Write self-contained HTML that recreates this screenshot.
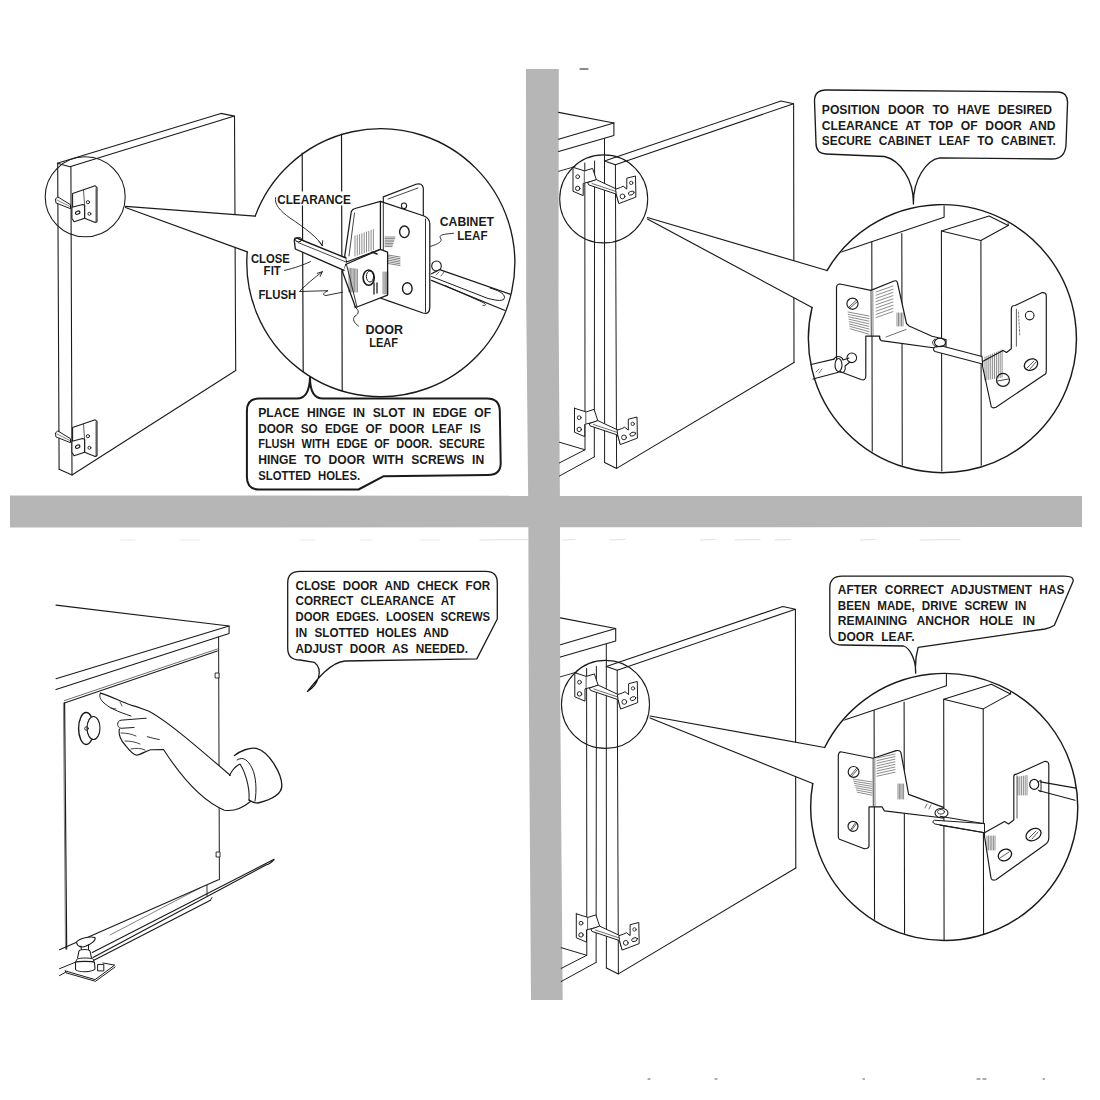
<!DOCTYPE html><html><head><meta charset="utf-8"><style>
html,body{margin:0;padding:0;background:#fff;width:1100px;height:1100px;overflow:hidden}
svg{display:block}
text{font-family:"Liberation Sans",sans-serif;font-weight:bold;fill:#1a1a1a}
</style></head><body>
<svg width="1100" height="1100" viewBox="0 0 1100 1100">
<defs>
<pattern id="ht" width="2" height="2" patternUnits="userSpaceOnUse">
<rect width="2" height="2" fill="#d8d8d8"/><rect x="0" y="0" width="1" height="1" fill="#828282"/><rect x="1" y="1" width="1" height="1" fill="#828282"/>
</pattern>
</defs>
<rect width="1100" height="1100" fill="#fff"/>

<polygon points="526,69 558.8,69 558.5,300 560,510 560.2,700 562.7,1000 531,1000 528.9,700 528.3,510 526.2,300" fill="#b6b6b6"/>
<polygon points="10,495.5 1082,495.8 1082,527 10,527.6" fill="#b6b6b6"/>
<g stroke="#1a1a1a" fill="none" stroke-linecap="round" stroke-linejoin="round">
<polyline points="57.3,163.2 220.9,113.4 234.5,116.1 69.8,166.8 57.3,163.2" stroke-width="1.08" fill="none"/>
<line x1="57.7" y1="163.2" x2="59.1" y2="469.3" stroke-width="1.08"/>
<line x1="70.9" y1="166.8" x2="72" y2="475" stroke-width="1.08"/>
<line x1="234.5" y1="116.1" x2="235.7" y2="370.5" stroke-width="1.08"/>
<polyline points="235.7,370.5 72,475 59.1,469.3" stroke-width="1.08" fill="none"/>
<polygon points="57.4,197.1 55.5,199 55.9,202.9 70.5,208.7 70.5,205.1" stroke-width="0.99" fill="#fff"/>
<line x1="57" y1="200" x2="70.5" y2="206.8" stroke-width="0.54"/>
<polygon points="72.6,193.5 83.5,189.8 95.2,185.8 97,187.3 97,221.8 95.2,222.5 84.6,218.2 84.6,205.5 72.6,208" stroke-width="1.08" fill="#fff"/>
<line x1="83.5" y1="190" x2="84.6" y2="205.5" stroke-width="0.72"/>
<line x1="96" y1="188" x2="96" y2="222" stroke-width="0.72"/>
<polygon points="71.9,207.3 82.8,204.4 84.6,205.5 84.6,218.2 74.1,221.8 71.9,218.2" stroke-width="1.08" fill="#fff"/>
<circle cx="87.9" cy="202.2" r="1.6" stroke-width="0.9" fill="#fff"/>
<circle cx="89.4" cy="213.8" r="1.5" stroke-width="0.9" fill="#fff"/>
<ellipse cx="77.7" cy="212.7" rx="2.3" ry="1.5" transform="rotate(-25 77.7 212.7)" stroke-width="1.1" fill="#fff"/>
<g transform="translate(0,234)">
<polygon points="57.4,197.1 55.5,199 55.9,202.9 70.5,208.7 70.5,205.1" stroke-width="0.99" fill="#fff"/>
<line x1="57" y1="200" x2="70.5" y2="206.8" stroke-width="0.54"/>
<polygon points="72.6,193.5 83.5,189.8 95.2,185.8 97,187.3 97,221.8 95.2,222.5 84.6,218.2 84.6,205.5 72.6,208" stroke-width="1.08" fill="#fff"/>
<line x1="83.5" y1="190" x2="84.6" y2="205.5" stroke-width="0.72"/>
<line x1="96" y1="188" x2="96" y2="222" stroke-width="0.72"/>
<polygon points="71.9,207.3 82.8,204.4 84.6,205.5 84.6,218.2 74.1,221.8 71.9,218.2" stroke-width="1.08" fill="#fff"/>
<circle cx="87.9" cy="202.2" r="1.6" stroke-width="0.9" fill="#fff"/>
<circle cx="89.4" cy="213.8" r="1.5" stroke-width="0.9" fill="#fff"/>
<ellipse cx="77.7" cy="212.7" rx="2.3" ry="1.5" transform="rotate(-25 77.7 212.7)" stroke-width="1.1" fill="#fff"/>
</g>
<circle cx="85.2" cy="196.8" r="40" stroke-width="1.08" fill="none"/>
<path d="M125.5,206.4 L255.16,216.11 A134,134 0 1 1 247.24,251.89 L125.5,207.5 Z" fill="#fff" stroke="none"/>
<line x1="125.5" y1="206.4" x2="255.16" y2="216.11" stroke-width="1.17"/>
<line x1="125.5" y1="207.5" x2="247.24" y2="251.89" stroke-width="1.17"/>
<path d="M255.16,216.11 A134,134 0 1 1 247.24,251.89" stroke-width="1.35" fill="none"/>
<line x1="302.2" y1="153" x2="303.2" y2="372" stroke-width="1.17"/>
<line x1="341.5" y1="134" x2="342.2" y2="391" stroke-width="1.17"/>
<path d="M310,377.5 C310,390 314,398.6 323,398.6 L487,398.6 Q499.5,398.6 499.8,411 L500.7,463 Q500.7,475 488,475 L383.3,476.3 L358.5,489.5 L259,489.5 Q246.9,489.5 246.9,477 L246.9,411 Q246.9,398.6 259,398.6 L297,398.6 C305,398.6 309.5,392 310,377.5 Z" stroke-width="2.0" fill="#fff"/>
<text transform="translate(258.2,416.8) scale(0.92,1)" font-size="13.2" word-spacing="4.60" stroke="none">PLACE HINGE IN SLOT IN EDGE OF</text>
<text transform="translate(258.2,432.5) scale(0.8908908908908909,1)" font-size="13.2" word-spacing="4.50" stroke="none">DOOR SO EDGE OF DOOR LEAF IS</text>
<text transform="translate(258.2,448.2) scale(0.8324420677361853,1)" font-size="13.2" word-spacing="4.50" stroke="none">FLUSH WITH EDGE OF DOOR.  SECURE</text>
<text transform="translate(258.2,464) scale(0.92,1)" font-size="13.2" word-spacing="4.63" stroke="none">HINGE TO DOOR WITH SCREWS IN</text>
<text transform="translate(258.2,479.8) scale(0.8577666710509007,1)" font-size="13.2" word-spacing="4.50" stroke="none">SLOTTED HOLES.</text>
<ellipse cx="436.5" cy="266" rx="4.8" ry="5" stroke-width="1.1" fill="#fff"/>
<path d="M431.5,273.7 L439.7,269.6 L510.1,294.2 L505,310.5 L431.5,280.3 Z" fill="#fff" stroke="none"/>
<path d="M431.5,273.7 L439.7,269.6 L510.1,294.2" stroke-width="1.26" fill="none"/>
<path d="M431.5,280.3 L505,310.5" stroke-width="1.26" fill="none"/>
<path d="M431.5,276.5 L488,298.5 C497,300.5 504,302 504.5,297.5 C504.5,293 497,290 490,288" stroke-width="0.99" fill="none"/>
<path d="M445,285.5 L482,302 C486,304 487,305.5 483,305.5" stroke-width="0.9" fill="none"/>
<path d="M436,275 l3,-3 M441,276 l3,-4" stroke-width="0.63" fill="none"/>
<path d="M383.3,196.9 L416,184.3 Q422,182.5 423.3,188 L423.3,216 L383.3,216 Z" stroke-width="1.17" fill="#fff"/>
<path d="M388,199 L418,188" stroke-width="0.81" fill="none"/>
<ellipse cx="404" cy="205.8" rx="2.6" ry="2.8" stroke-width="1.1" fill="#fff"/>
<path d="M380.4,201.3 L424,216 Q429.8,218.5 429.8,224 L429.8,307 Q429.8,315 423,313 L388.4,300.9 L380.4,298 Z" stroke-width="1.26" fill="#fff"/>
<line x1="425.5" y1="219" x2="425.5" y2="312" stroke-width="0.9"/>
<line x1="383.3" y1="201.8" x2="383.3" y2="296" stroke-width="0.9"/>
<ellipse cx="404.4" cy="231.8" rx="4.8" ry="5.8" stroke-width="1.4" fill="#fff"/>
<ellipse cx="407.3" cy="288.5" rx="4.8" ry="5.8" stroke-width="1.4" fill="#fff"/>
<line x1="385" y1="237.0" x2="395.0" y2="237.0" stroke-width="0.54"/>
<line x1="385" y1="238.6" x2="394.5" y2="238.6" stroke-width="0.54"/>
<line x1="385" y1="240.2" x2="394.0" y2="240.2" stroke-width="0.54"/>
<line x1="385" y1="241.8" x2="393.5" y2="241.8" stroke-width="0.54"/>
<line x1="385" y1="243.4" x2="393.0" y2="243.4" stroke-width="0.54"/>
<line x1="385" y1="245.0" x2="392.5" y2="245.0" stroke-width="0.54"/>
<line x1="385" y1="246.6" x2="392.0" y2="246.6" stroke-width="0.54"/>
<line x1="388" y1="255.0" x2="400" y2="257.0" stroke-width="0.54"/>
<line x1="388" y1="256.7" x2="400" y2="258.7" stroke-width="0.54"/>
<line x1="388" y1="258.4" x2="400" y2="260.4" stroke-width="0.54"/>
<line x1="388" y1="260.1" x2="400" y2="262.1" stroke-width="0.54"/>
<line x1="388" y1="261.8" x2="400" y2="263.8" stroke-width="0.54"/>
<line x1="388" y1="263.5" x2="400" y2="265.5" stroke-width="0.54"/>
<path d="M351.3,211.5 Q352.5,209 355,208.5 L380.4,201.3 L380.4,249.3 L346.5,262 L344.7,256 Z" stroke-width="1.26" fill="#fff"/>
<line x1="354.5" y1="213" x2="349" y2="256" stroke-width="0.81"/>
<line x1="355.0" y1="236.0" x2="355.0" y2="256.0" stroke-width="0.5"/>
<line x1="357.3" y1="235.2" x2="357.3" y2="255.2" stroke-width="0.5"/>
<line x1="359.6" y1="234.4" x2="359.6" y2="254.4" stroke-width="0.5"/>
<line x1="361.9" y1="233.6" x2="361.9" y2="253.6" stroke-width="0.5"/>
<line x1="364.2" y1="232.8" x2="364.2" y2="252.8" stroke-width="0.5"/>
<line x1="366.5" y1="232.0" x2="366.5" y2="252.0" stroke-width="0.5"/>
<line x1="368.8" y1="231.2" x2="368.8" y2="251.2" stroke-width="0.5"/>
<line x1="371.1" y1="230.4" x2="371.1" y2="250.4" stroke-width="0.5"/>
<line x1="373.4" y1="229.6" x2="373.4" y2="249.6" stroke-width="0.5"/>
<path d="M345.5,264.5 L380.4,249.3 L387.6,252.2 L387.6,295.1 L355.6,307.5 L342.5,271.8 Z" stroke-width="1.26" fill="#fff"/>
<line x1="346.5" y1="264.5" x2="357" y2="307" stroke-width="0.9"/>
<line x1="372" y1="252" x2="377" y2="254" stroke-width="1.44"/>
<ellipse cx="368.7" cy="277.6" rx="5.6" ry="7.6" stroke-width="1.6" fill="#fff"/>
<ellipse cx="370" cy="276.5" rx="3.6" ry="5.5" stroke-width="1.0" fill="none"/>
<path d="M374,283 L374,294 M377,283 L377,293" stroke-width="1.26" fill="none"/>
<line x1="349.0" y1="268.0" x2="349.0" y2="292" stroke-width="0.5"/>
<line x1="350.4" y1="268.2" x2="350.4" y2="292" stroke-width="0.5"/>
<line x1="351.8" y1="268.4" x2="351.8" y2="292" stroke-width="0.5"/>
<line x1="353.2" y1="268.6" x2="353.2" y2="292" stroke-width="0.5"/>
<line x1="354.6" y1="268.8" x2="354.6" y2="292" stroke-width="0.5"/>
<line x1="356.0" y1="269.0" x2="356.0" y2="292" stroke-width="0.5"/>
<line x1="357.4" y1="269.2" x2="357.4" y2="292" stroke-width="0.5"/>
<line x1="383.0" y1="272" x2="383.0" y2="294" stroke-width="0.45"/>
<line x1="384.2" y1="272" x2="384.2" y2="294" stroke-width="0.45"/>
<line x1="385.4" y1="272" x2="385.4" y2="294" stroke-width="0.45"/>
<line x1="386.6" y1="272" x2="386.6" y2="294" stroke-width="0.45"/>
<line x1="387.8" y1="272" x2="387.8" y2="294" stroke-width="0.45"/>
<path d="M346,258 L298,238.5 Q293.5,236.5 294.5,242 L295.3,249 L344,270.4" stroke-width="1.35" fill="#fff"/>
<path d="M298,242.5 L346,262" stroke-width="0.81" fill="none"/>
<ellipse cx="298.6" cy="239.6" rx="3.2" ry="2.2" stroke-width="1.0" fill="none"/>
<rect x="277" y="191.5" width="75" height="14" fill="#fff" stroke="none"/>
<path d="M275.6,197.5 C274,204 280,211 290,218 C305,228 318,238 322.2,245.6" stroke-width="0.9" fill="none"/>
<path d="M322.2,245.6 l-3,-4 M322.2,245.6 l0.5,-5" stroke-width="0.9" fill="none"/>
<path d="M284.4,270.4 C295,268 303,265 310.5,261.6" stroke-width="0.9" fill="none"/>
<path d="M299.8,291 C307,284 314,278 322.2,271.8 M322.2,271.8 l-5,1.5 M322.2,271.8 l-2,4.5" stroke-width="0.9" fill="none"/>
<path d="M299.8,291.5 L328,290.7 C323,293 322,295 326,295.5 L342.5,292.2" stroke-width="0.9" fill="none"/>
<path d="M354.2,306.7 C360,310 359,314 355,316 C352,319 354,323 358.5,326" stroke-width="0.9" fill="none"/>
<path d="M453.5,233.3 C446,234 438,234.5 440.5,238 C443,241.5 438,244 430.5,246.4" stroke-width="0.9" fill="none"/>
<text transform="translate(277.2,203.5) scale(0.864,1)" font-size="13.6" stroke="none">CLEARANCE</text>
<text transform="translate(439.79999999999995,225.8) scale(0.897,1)" font-size="13.6" stroke="none">CABINET</text>
<text transform="translate(457.2,240) scale(0.854,1)" font-size="13.6" stroke="none">LEAF</text>
<text transform="translate(250.9,262.5) scale(0.831,1)" font-size="13.6" stroke="none">CLOSE</text>
<text transform="translate(263.59999999999997,275.3) scale(0.848,1)" font-size="13.6" stroke="none">FIT</text>
<text transform="translate(258.4,299.3) scale(0.834,1)" font-size="13.6" stroke="none">FLUSH</text>
<text transform="translate(365.4,333.6) scale(0.924,1)" font-size="13.6" stroke="none">DOOR</text>
<text transform="translate(369.2,346.8) scale(0.811,1)" font-size="13.6" stroke="none">LEAF</text>
<g transform="translate(0,0)">
<polyline points="558.6,112.4 613.9,123 613.9,135.6 558.6,151.6" stroke-width="1.08" fill="none"/>
<line x1="558.6" y1="139.3" x2="613.9" y2="123" stroke-width="1.08"/>
<line x1="558.6" y1="171.3" x2="575" y2="166.6" stroke-width="0.9"/>
<line x1="584.8" y1="163" x2="585" y2="449.8" stroke-width="0.99"/>
<line x1="594.6" y1="161" x2="594.3" y2="456.9" stroke-width="0.99"/>
<line x1="604.5" y1="138.5" x2="604.6" y2="462.4" stroke-width="0.99"/>
<line x1="615.4" y1="164.7" x2="616.6" y2="468.4" stroke-width="0.99"/>
<polyline points="604.5,161.1 781,101 793.6,103.7 615.4,164.7 604.5,161.1" stroke-width="1.08" fill="none"/>
<line x1="793.6" y1="103.7" x2="794" y2="362.5" stroke-width="1.08"/>
<polyline points="604.6,462.4 616.6,468.4 794,362.5" stroke-width="1.08" fill="none"/>
<polyline points="559.4,442.2 585,449.8 559.4,462.9" stroke-width="0.99" fill="none"/>
<line x1="594.3" y1="456.9" x2="559.4" y2="476" stroke-width="0.99"/>
<polygon points="573,167.3 584.6,170.9 592.6,168.4 596.3,179.6 592.6,181.1 583.2,183.3 583.2,195.6 573,191.3 573,167.3" stroke-width="0.99" fill="#fff"/>
<line x1="584.3" y1="171.5" x2="584.3" y2="182" stroke-width="0.72"/>
<polygon points="588,182.5 596.3,179.6 617.4,189.5 618.8,202.9 616,194 589,185" stroke-width="0.99" fill="#fff"/>
<line x1="592" y1="183.5" x2="616" y2="191.5" stroke-width="0.63"/>
<polygon points="615.9,189.1 620.3,187.6 623.2,186.2 626.8,189.1 626.8,178.2 635.5,176 635.9,197.1 618.8,203.6 616.3,194.2" stroke-width="0.99" fill="#fff"/>
<circle cx="577.7" cy="176.7" r="1.9" stroke-width="0.9" fill="#fff"/>
<circle cx="577.7" cy="188.4" r="2.2" stroke-width="0.99" fill="#fff"/>
<circle cx="631.2" cy="182.9" r="1.7" stroke-width="0.81" fill="#fff"/>
<circle cx="622.5" cy="196.4" r="2.4" stroke-width="0.9" fill="#fff"/>
<ellipse cx="631.2" cy="193.1" rx="3" ry="1.8" transform="rotate(-20 631.2 193.1)" stroke-width="0.9" fill="#fff"/>
<g transform="translate(1.5,241)">
<polygon points="573,167.3 584.6,170.9 592.6,168.4 596.3,179.6 592.6,181.1 583.2,183.3 583.2,195.6 573,191.3 573,167.3" stroke-width="0.99" fill="#fff"/>
<line x1="584.3" y1="171.5" x2="584.3" y2="182" stroke-width="0.72"/>
<polygon points="588,182.5 596.3,179.6 617.4,189.5 618.8,202.9 616,194 589,185" stroke-width="0.99" fill="#fff"/>
<line x1="592" y1="183.5" x2="616" y2="191.5" stroke-width="0.63"/>
<polygon points="615.9,189.1 620.3,187.6 623.2,186.2 626.8,189.1 626.8,178.2 635.5,176 635.9,197.1 618.8,203.6 616.3,194.2" stroke-width="0.99" fill="#fff"/>
<circle cx="577.7" cy="176.7" r="1.9" stroke-width="0.9" fill="#fff"/>
<circle cx="577.7" cy="188.4" r="2.2" stroke-width="0.99" fill="#fff"/>
<circle cx="631.2" cy="182.9" r="1.7" stroke-width="0.81" fill="#fff"/>
<circle cx="622.5" cy="196.4" r="2.4" stroke-width="0.9" fill="#fff"/>
<ellipse cx="631.2" cy="193.1" rx="3" ry="1.8" transform="rotate(-20 631.2 193.1)" stroke-width="0.9" fill="#fff"/>
</g>
<circle cx="603.7" cy="198.9" r="44" stroke-width="1.08" fill="none"/>
</g>
<path d="M647.4,217.5 L826.97,270.55 A134,134 0 1 1 812.07,307.45 L647.4,219 Z" fill="#fff" stroke="none"/>
<line x1="647.4" y1="217.5" x2="826.97" y2="270.55" stroke-width="1.17"/>
<line x1="647.4" y1="219" x2="812.07" y2="307.45" stroke-width="1.17"/>
<path d="M826.97,270.55 A134,134 0 1 1 812.07,307.45" stroke-width="1.44" fill="none"/>
<path d="M913.4,204 C914,180 900,160 884.4,156.5 L826,154 Q816,153.5 816,143 L814.5,101 Q814.5,90 826,90 L1057,92 Q1068.4,92 1067.5,104 L1066,145 Q1065,159 1052,159 L939.7,157.8 C926,160 913,180 913.4,204 Z" stroke-width="1.35" fill="#fff"/>
<text transform="translate(821.8,114.3) scale(0.92,1)" font-size="13.2" word-spacing="5.16" stroke="none">POSITION DOOR TO HAVE DESIRED</text>
<text transform="translate(821.8,130.1) scale(0.92,1)" font-size="13.2" word-spacing="4.82" stroke="none">CLEARANCE AT TOP OF DOOR AND</text>
<text transform="translate(821.8,145.4) scale(0.9019565348263202,1)" font-size="13.2" word-spacing="4.50" stroke="none">SECURE CABINET LEAF TO CABINET.</text>
<g transform="translate(1.8,505.5)">
<polyline points="558.6,112.4 613.9,123 613.9,135.6 558.6,151.6" stroke-width="1.08" fill="none"/>
<line x1="558.6" y1="139.3" x2="613.9" y2="123" stroke-width="1.08"/>
<line x1="558.6" y1="171.3" x2="575" y2="166.6" stroke-width="0.9"/>
<line x1="584.8" y1="163" x2="585" y2="449.8" stroke-width="0.99"/>
<line x1="594.6" y1="161" x2="594.3" y2="456.9" stroke-width="0.99"/>
<line x1="604.5" y1="138.5" x2="604.6" y2="462.4" stroke-width="0.99"/>
<line x1="615.4" y1="164.7" x2="616.6" y2="468.4" stroke-width="0.99"/>
<polyline points="604.5,161.1 781,101 793.6,103.7 615.4,164.7 604.5,161.1" stroke-width="1.08" fill="none"/>
<line x1="793.6" y1="103.7" x2="794" y2="362.5" stroke-width="1.08"/>
<polyline points="604.6,462.4 616.6,468.4 794,362.5" stroke-width="1.08" fill="none"/>
<polyline points="559.4,442.2 585,449.8 559.4,462.9" stroke-width="0.99" fill="none"/>
<line x1="594.3" y1="456.9" x2="559.4" y2="476" stroke-width="0.99"/>
<polygon points="573,167.3 584.6,170.9 592.6,168.4 596.3,179.6 592.6,181.1 583.2,183.3 583.2,195.6 573,191.3 573,167.3" stroke-width="0.99" fill="#fff"/>
<line x1="584.3" y1="171.5" x2="584.3" y2="182" stroke-width="0.72"/>
<polygon points="588,182.5 596.3,179.6 617.4,189.5 618.8,202.9 616,194 589,185" stroke-width="0.99" fill="#fff"/>
<line x1="592" y1="183.5" x2="616" y2="191.5" stroke-width="0.63"/>
<polygon points="615.9,189.1 620.3,187.6 623.2,186.2 626.8,189.1 626.8,178.2 635.5,176 635.9,197.1 618.8,203.6 616.3,194.2" stroke-width="0.99" fill="#fff"/>
<circle cx="577.7" cy="176.7" r="1.9" stroke-width="0.9" fill="#fff"/>
<circle cx="577.7" cy="188.4" r="2.2" stroke-width="0.99" fill="#fff"/>
<circle cx="631.2" cy="182.9" r="1.7" stroke-width="0.81" fill="#fff"/>
<circle cx="622.5" cy="196.4" r="2.4" stroke-width="0.9" fill="#fff"/>
<ellipse cx="631.2" cy="193.1" rx="3" ry="1.8" transform="rotate(-20 631.2 193.1)" stroke-width="0.9" fill="#fff"/>
<g transform="translate(1.5,241)">
<polygon points="573,167.3 584.6,170.9 592.6,168.4 596.3,179.6 592.6,181.1 583.2,183.3 583.2,195.6 573,191.3 573,167.3" stroke-width="0.99" fill="#fff"/>
<line x1="584.3" y1="171.5" x2="584.3" y2="182" stroke-width="0.72"/>
<polygon points="588,182.5 596.3,179.6 617.4,189.5 618.8,202.9 616,194 589,185" stroke-width="0.99" fill="#fff"/>
<line x1="592" y1="183.5" x2="616" y2="191.5" stroke-width="0.63"/>
<polygon points="615.9,189.1 620.3,187.6 623.2,186.2 626.8,189.1 626.8,178.2 635.5,176 635.9,197.1 618.8,203.6 616.3,194.2" stroke-width="0.99" fill="#fff"/>
<circle cx="577.7" cy="176.7" r="1.9" stroke-width="0.9" fill="#fff"/>
<circle cx="577.7" cy="188.4" r="2.2" stroke-width="0.99" fill="#fff"/>
<circle cx="631.2" cy="182.9" r="1.7" stroke-width="0.81" fill="#fff"/>
<circle cx="622.5" cy="196.4" r="2.4" stroke-width="0.9" fill="#fff"/>
<ellipse cx="631.2" cy="193.1" rx="3" ry="1.8" transform="rotate(-20 631.2 193.1)" stroke-width="0.9" fill="#fff"/>
</g>
<circle cx="603.7" cy="198.9" r="44" stroke-width="1.08" fill="none"/>
</g>
<path d="M650,716 L824.64,747.51 A133.5,133.5 0 1 1 812.77,783.47 L650,718 Z" fill="#fff" stroke="none"/>
<line x1="650" y1="716" x2="824.64" y2="747.51" stroke-width="1.17"/>
<line x1="650" y1="718" x2="812.77" y2="783.47" stroke-width="1.17"/>
<path d="M824.64,747.51 A133.5,133.5 0 1 1 812.77,783.47" stroke-width="1.44" fill="none"/>
<path d="M915.7,673.1 C916,660 910,648 903.5,646 L842,645 Q829.8,645 829.8,633 L829.8,588 Q829.8,576.1 842,576.1 L1064,576.1 Q1075,576.1 1072.8,582 L1054.4,625.2 Q1050,628 1045,629 L918.2,647.3 C916,655 915,665 915.7,673.1 Z" stroke-width="1.3" fill="#fff"/>
<text transform="translate(837.8,593.8) scale(0.9023394723743159,1)" font-size="13.2" word-spacing="4.50" stroke="none">AFTER CORRECT ADJUSTMENT HAS</text>
<text transform="translate(837.8,609.8) scale(0.8797667638483969,1)" font-size="13.2" word-spacing="4.50" stroke="none">BEEN MADE, DRIVE SCREW IN</text>
<text transform="translate(837.8,625.2) scale(0.92,1)" font-size="13.2" word-spacing="6.89" stroke="none">REMAINING ANCHOR HOLE IN</text>
<text transform="translate(837.8,641.2) scale(0.9115762178181147,1)" font-size="13.2" word-spacing="4.50" stroke="none">DOOR LEAF.</text>
<clipPath id="c_tr"><circle cx="942.4" cy="338.6" r="133"/></clipPath>
<g clip-path="url(#c_tr)" transform="translate(0,0)">
<line x1="871.8" y1="241.8" x2="872.3" y2="480" stroke-width="1.08"/>
<line x1="901.8" y1="233.6" x2="902.3" y2="480" stroke-width="1.08"/>
<line x1="941.4" y1="230.9" x2="941.8" y2="480" stroke-width="1.08"/>
<line x1="980.9" y1="240.5" x2="981.3" y2="480" stroke-width="1.08"/>
<polyline points="941.4,230.9 989.1,215.9 1008.2,225.5 980.9,240.5 941.4,230.9" stroke-width="1.08" fill="none"/>
<line x1="1008.2" y1="225.5" x2="1008.2" y2="200" stroke-width="1.08"/>
<polyline points="800,275 839.1,252.7 944.1,217.3 944.1,200" stroke-width="1.08" fill="none"/>
</g>
<clipPath id="c_br"><circle cx="942.4" cy="338.6" r="133"/></clipPath>
<g clip-path="url(#c_br)" transform="translate(2.3,468.4)">
<line x1="871.8" y1="241.8" x2="872.3" y2="480" stroke-width="1.08"/>
<line x1="901.8" y1="233.6" x2="902.3" y2="480" stroke-width="1.08"/>
<line x1="941.4" y1="230.9" x2="941.8" y2="480" stroke-width="1.08"/>
<line x1="980.9" y1="240.5" x2="981.3" y2="480" stroke-width="1.08"/>
<polyline points="941.4,230.9 989.1,215.9 1008.2,225.5 980.9,240.5 941.4,230.9" stroke-width="1.08" fill="none"/>
<line x1="1008.2" y1="225.5" x2="1008.2" y2="200" stroke-width="1.08"/>
<polyline points="800,275 839.1,252.7 944.1,217.3 944.1,200" stroke-width="1.08" fill="none"/>
</g>
<path d="M840,284 L870.9,290.4 L894,281 Q897,280 897.5,283 L906.5,323.5 L909.1,326 L932,336.2 L946,339.5 L946,349.5 L881.1,340.6 Q879,339 879.8,336.2 L865.8,336.2 L865.8,376 Q865.8,381 861,379.5 L840.4,371.8 Q836.5,370 836.5,366 L836.5,288 Q836.5,284 840,284 Z" stroke-width="1.17" fill="#fff"/>
<line x1="871" y1="291" x2="871.3" y2="336" stroke-width="0.81"/>
<line x1="872.8" y1="291" x2="873" y2="336" stroke-width="0.54"/>
<circle cx="852.5" cy="303.7" r="5.6" stroke-width="1.17" fill="#fff"/>
<path d="M849,307 L856,300.5 M850,308 L857,302" stroke-width="0.72" fill="none"/>
<circle cx="851.8" cy="357.8" r="4.8" stroke-width="1.08" fill="#fff"/>
<line x1="848.0" y1="312.0" x2="869" y2="316.0" stroke-width="0.5"/>
<line x1="848.3" y1="314.4" x2="869" y2="318.6" stroke-width="0.5"/>
<line x1="848.6" y1="316.8" x2="869" y2="321.2" stroke-width="0.5"/>
<line x1="848.9" y1="319.2" x2="869" y2="323.8" stroke-width="0.5"/>
<line x1="849.2" y1="321.6" x2="869" y2="326.4" stroke-width="0.5"/>
<line x1="849.5" y1="324.0" x2="869" y2="329.0" stroke-width="0.5"/>
<line x1="849.8" y1="326.4" x2="869" y2="331.6" stroke-width="0.5"/>
<line x1="850.1" y1="328.8" x2="869" y2="334.2" stroke-width="0.5"/>
<line x1="876" y1="292.0" x2="893" y2="286.0" stroke-width="0.5"/>
<line x1="876" y1="295.2" x2="893" y2="289.2" stroke-width="0.5"/>
<line x1="876" y1="298.4" x2="893" y2="292.4" stroke-width="0.5"/>
<line x1="876" y1="301.6" x2="893" y2="295.6" stroke-width="0.5"/>
<line x1="876" y1="304.8" x2="893" y2="298.8" stroke-width="0.5"/>
<line x1="876" y1="308.0" x2="893" y2="302.0" stroke-width="0.5"/>
<line x1="876" y1="311.2" x2="893" y2="305.2" stroke-width="0.5"/>
<line x1="876" y1="314.4" x2="893" y2="308.4" stroke-width="0.5"/>
<line x1="876" y1="317.6" x2="893" y2="311.6" stroke-width="0.5"/>
<line x1="897.0" y1="313" x2="897.0" y2="326" stroke-width="0.5"/>
<line x1="898.5" y1="313" x2="898.5" y2="326" stroke-width="0.5"/>
<line x1="900.0" y1="313" x2="900.0" y2="326" stroke-width="0.5"/>
<line x1="901.5" y1="313" x2="901.5" y2="326" stroke-width="0.5"/>
<line x1="903.0" y1="313" x2="903.0" y2="326" stroke-width="0.5"/>
<path d="M886,337 L906,329.5" stroke-width="0.63" fill="none"/>
<path d="M811,364.5 L834,359.1 M813,379 L840.4,371.8" stroke-width="1.17" fill="none"/>
<path d="M834,359.1 C836,355 842,356 843,360 L849,358 M840.4,371.8 C844,374 846,370 845,366 L850,362" stroke-width="1.08" fill="none"/>
<ellipse cx="838.5" cy="365" rx="3.5" ry="6.5" stroke-width="1.1" fill="#fff"/>
<path d="M816,372 l3,-3 M819,373 l3,-4" stroke-width="0.63" fill="none"/>
<path d="M942,346 L982,356.4 L982.6,364 L935,351.5 Q932,349 935,347 Z" stroke-width="1.08" fill="#fff"/>
<ellipse cx="940" cy="342.5" rx="5.5" ry="4.2" stroke-width="1.1" fill="none"/>
<path d="M935,339 C931,341 932,346 937,347" stroke-width="0.9" fill="none"/>
<path d="M982.6,361.4 L1003,350.5 L1006.5,352.5 L1011.3,348.7 L1011.3,309.3 Q1011.3,305.5 1015.1,305.5 L1041.8,292.7 Q1046.3,292 1046.3,296 L1046.3,370.4 Q1046.3,374.5 1043.1,375.4 L996,407.3 Q991,409 990.9,405 L982.6,366.5 Z" stroke-width="1.17" fill="#fff"/>
<line x1="1016.4" y1="309.3" x2="1016.4" y2="346.2" stroke-width="0.72"/>
<circle cx="1003" cy="379.9" r="6.5" stroke-width="1.17" fill="#fff"/>
<path d="M997.5,381 L1008.5,379" stroke-width="0.81" fill="none"/>
<ellipse cx="1031" cy="364.6" rx="7" ry="5.4" transform="rotate(-28 1031 364.6)" stroke-width="1.3" fill="#fff"/>
<path d="M1027,368 L1034,361 M1030,369 L1036,362" stroke-width="0.72" fill="none"/>
<circle cx="1029.7" cy="315.6" r="4.3" stroke-width="1.08" fill="#fff"/>
<line x1="985.0" y1="357.0" x2="985.0" y2="380.0" stroke-width="0.5"/>
<line x1="986.9" y1="356.2" x2="986.9" y2="379.7" stroke-width="0.5"/>
<line x1="988.8" y1="355.4" x2="988.8" y2="379.4" stroke-width="0.5"/>
<line x1="990.7" y1="354.6" x2="990.7" y2="379.1" stroke-width="0.5"/>
<line x1="992.6" y1="353.8" x2="992.6" y2="378.8" stroke-width="0.5"/>
<line x1="994.5" y1="353.0" x2="994.5" y2="378.5" stroke-width="0.5"/>
<line x1="996.4" y1="352.2" x2="996.4" y2="378.2" stroke-width="0.5"/>
<line x1="998.3" y1="351.4" x2="998.3" y2="377.9" stroke-width="0.5"/>
<line x1="1000.2" y1="350.6" x2="1000.2" y2="377.6" stroke-width="0.5"/>
<line x1="1002.1" y1="349.8" x2="1002.1" y2="377.3" stroke-width="0.5"/>
<line x1="1018.5" y1="312.0" x2="1018.5" y2="314.0" stroke-width="0.54"/>
<line x1="1018.7" y1="315.5" x2="1018.7" y2="317.5" stroke-width="0.54"/>
<line x1="1018.9" y1="319.0" x2="1018.9" y2="321.0" stroke-width="0.54"/>
<line x1="1019.1" y1="322.5" x2="1019.1" y2="324.5" stroke-width="0.54"/>
<line x1="1019.3" y1="326.0" x2="1019.3" y2="328.0" stroke-width="0.54"/>
<line x1="1019.5" y1="329.5" x2="1019.5" y2="331.5" stroke-width="0.54"/>
<line x1="1019.7" y1="333.0" x2="1019.7" y2="335.0" stroke-width="0.54"/>
<path d="M840.6,751.8 L873.1,758.3 L896.2,750.6 Q900,750 900.9,752.4 L908.6,794.4 L943.5,807.4 L943.5,818 L884.4,810.9 L882,806.8 L869,806.8 L869,846.4 Q868,849 864.3,848.7 L839.5,839.3 Q838.3,838 838.3,836.9 L838.3,755.4 Q838.8,752 840.6,751.8 Z" stroke-width="1.17" fill="#fff"/>
<line x1="873.1" y1="758.8" x2="873.3" y2="806" stroke-width="0.81"/>
<line x1="874.8" y1="759" x2="875" y2="806" stroke-width="0.54"/>
<circle cx="853.6" cy="771.9" r="5.4" stroke-width="1.17" fill="#fff"/>
<path d="M850.5,775.5 L856.5,768.3 M851.5,776.5 L857.5,769.5" stroke-width="0.72" fill="none"/>
<circle cx="853" cy="826.3" r="5" stroke-width="1.17" fill="#fff"/>
<path d="M850.5,830 L855.5,822.5 M851.5,830.5 L856.5,823.5" stroke-width="0.72" fill="none"/>
<line x1="853.0" y1="779.0" x2="872" y2="782.0" stroke-width="0.5"/>
<line x1="853.7" y1="781.2" x2="872" y2="784.2" stroke-width="0.5"/>
<line x1="854.4" y1="783.4" x2="872" y2="786.4" stroke-width="0.5"/>
<line x1="855.1" y1="785.6" x2="872" y2="788.6" stroke-width="0.5"/>
<line x1="855.8" y1="787.8" x2="872" y2="790.8" stroke-width="0.5"/>
<line x1="856.5" y1="790.0" x2="872" y2="793.0" stroke-width="0.5"/>
<line x1="857.2" y1="792.2" x2="872" y2="795.2" stroke-width="0.5"/>
<line x1="877" y1="758.0" x2="895" y2="754.0" stroke-width="0.5"/>
<line x1="877" y1="760.6" x2="895" y2="756.6" stroke-width="0.5"/>
<line x1="877" y1="763.2" x2="895" y2="759.2" stroke-width="0.5"/>
<line x1="877" y1="765.8" x2="895" y2="761.8" stroke-width="0.5"/>
<line x1="877" y1="768.4" x2="895" y2="764.4" stroke-width="0.5"/>
<line x1="877" y1="771.0" x2="895" y2="767.0" stroke-width="0.5"/>
<line x1="877" y1="773.6" x2="895" y2="769.6" stroke-width="0.5"/>
<line x1="877" y1="776.2" x2="895" y2="772.2" stroke-width="0.5"/>
<line x1="898.0" y1="784" x2="898.0" y2="799" stroke-width="0.5"/>
<line x1="899.4" y1="784" x2="899.4" y2="799" stroke-width="0.5"/>
<line x1="900.8" y1="784" x2="900.8" y2="799" stroke-width="0.5"/>
<line x1="902.2" y1="784" x2="902.2" y2="799" stroke-width="0.5"/>
<line x1="903.6" y1="784" x2="903.6" y2="799" stroke-width="0.5"/>
<path d="M934,820.4 Q931,822 935,824 L984.5,832.7 L984.5,824 Z" stroke-width="0.99" fill="#fff"/>
<ellipse cx="941.5" cy="813" rx="6.5" ry="4.8" stroke-width="1.1" fill="#fff"/>
<ellipse cx="941" cy="811.8" rx="3.5" ry="2.4" stroke-width="0.8" fill="none"/>
<path d="M925,808 l2,-4 M929,809 l2,-4" stroke-width="0.63" fill="none"/>
<path d="M940,816.2 L984.5,823.8 M940,825.1 L984.5,832.7" stroke-width="1.08" fill="none"/>
<path d="M984.5,832.7 L1004.5,821.5 L1008.5,824 L1013.8,820 L1013.8,776.7 Q1013.8,774.2 1016.4,774.2 L1044.4,761.5 Q1048.8,761 1048.8,765 L1048.8,837.8 Q1048.8,842 1045.6,844.2 L996,879.8 Q991,881 990.9,877.3 L984.5,836.5 Z" stroke-width="1.17" fill="#fff"/>
<line x1="1017" y1="776" x2="1017" y2="818" stroke-width="0.72"/>
<ellipse cx="1033.5" cy="834.6" rx="8" ry="5.6" transform="rotate(-28 1033.5 834.6)" stroke-width="1.3" fill="#fff"/>
<path d="M1029,838 L1036,831 M1032,839 L1038,832" stroke-width="0.72" fill="none"/>
<ellipse cx="1004.9" cy="855" rx="7" ry="5.5" transform="rotate(-28 1004.9 855)" stroke-width="1.3" fill="#fff"/>
<path d="M1000,858 L1009,852" stroke-width="0.72" fill="none"/>
<line x1="987.0" y1="836" x2="987.0" y2="850" stroke-width="0.5"/>
<line x1="988.6" y1="836" x2="988.6" y2="850" stroke-width="0.5"/>
<line x1="990.2" y1="836" x2="990.2" y2="850" stroke-width="0.5"/>
<line x1="991.8" y1="836" x2="991.8" y2="850" stroke-width="0.5"/>
<line x1="993.4" y1="836" x2="993.4" y2="850" stroke-width="0.5"/>
<line x1="995.0" y1="836" x2="995.0" y2="850" stroke-width="0.5"/>
<line x1="1018.0" y1="777.0" x2="1018.0" y2="795" stroke-width="0.5"/>
<line x1="1019.8" y1="776.7" x2="1019.8" y2="795" stroke-width="0.5"/>
<line x1="1021.6" y1="776.4" x2="1021.6" y2="795" stroke-width="0.5"/>
<line x1="1023.4" y1="776.1" x2="1023.4" y2="795" stroke-width="0.5"/>
<line x1="1025.2" y1="775.8" x2="1025.2" y2="795" stroke-width="0.5"/>
<line x1="1027.0" y1="775.5" x2="1027.0" y2="795" stroke-width="0.5"/>
<ellipse cx="1034.2" cy="784.4" rx="4.5" ry="5" stroke-width="1.2" fill="#fff"/>
<path d="M1040.5,781.8 L1076,788.2 M1039.3,790.7 L1075,800.3" stroke-width="1.17" fill="none"/>
<path d="M1038,782 L1041,780 L1041,792 L1038,790" stroke-width="0.9" fill="none"/>
<polyline points="56,605.1 229.1,626 229.1,633.6 56,689.6" stroke-width="1.08" fill="none"/>
<line x1="56" y1="678.7" x2="229.1" y2="626" stroke-width="1.08"/>
<line x1="218.6" y1="637" x2="219.4" y2="879.8" stroke-width="0.99"/>
<line x1="64.4" y1="702.9" x2="217.3" y2="650.9" stroke-width="1.08"/>
<line x1="64.4" y1="700.6" x2="217.3" y2="649" stroke-width="0.63"/>
<line x1="64.6" y1="702.9" x2="66.7" y2="949.1" stroke-width="1.17"/>
<line x1="63.4" y1="702.9" x2="65.5" y2="949.1" stroke-width="0.54"/>
<line x1="218.4" y1="879.8" x2="59.5" y2="949.8" stroke-width="1.08"/>
<line x1="207" y1="885.5" x2="207" y2="895.7" stroke-width="0.9"/>
<rect x="215.5" y="673" width="3.5" height="5" stroke-width="0.9" fill="#fff"/>
<rect x="216.5" y="852" width="3.5" height="5" stroke-width="0.9" fill="#fff"/>
<ellipse cx="86.2" cy="728.5" rx="7.6" ry="16" stroke-width="1.4" fill="#fff"/>
<ellipse cx="93.5" cy="728" rx="6.5" ry="11.5" stroke-width="1.1" fill="#fff"/>
<circle cx="86.5" cy="728.5" r="1.8" stroke-width="0.9" fill="none"/>
<path d="M274.1,859.3 L92.3,952.5 M274.1,859.3 C272,862 270,864 266,865 L93,957.5" stroke-width="1.17" fill="none"/>
<line x1="210.5" y1="900.2" x2="93.4" y2="960.5" stroke-width="1.17"/>
<line x1="210.5" y1="900.2" x2="212" y2="897.5" stroke-width="0.9"/>
<path d="M200,888 L110,935" stroke-width="0.54" fill="none"/>
<path d="M76.5,942 C80,938 90,936 95,937.6 C96,940 92,944 86,946 C82,948 77,947 76.5,942 Z" stroke-width="1.08" fill="#fff"/>
<path d="M81,946 L81.5,950.5 M88.5,944.8 L88.5,950" stroke-width="0.99" fill="none"/>
<path d="M79,951 C80,949 89,949 90,951 L91.5,958 C91,960 79,960 77.5,958 Z" stroke-width="1.08" fill="#fff"/>
<path d="M76.5,959.5 C76,957.5 93,957.5 93.6,959.5 L93.8,962 C93,964 77,964 76,962 Z" stroke-width="0.99" fill="#fff"/>
<path d="M75.5,962.5 C75,961 94,961 94.5,962.5 L95,969 C92,972.5 78,972.5 75.5,969.5 Z" stroke-width="1.08" fill="#fff"/>
<path d="M65.3,970.9 L95.1,979.6 L114.7,965.1 L103,963 M65.3,970.9 L66,972.8 L95.5,981.3 L115,967" stroke-width="0.99" fill="none"/>
<rect x="98" y="964.4" width="5.8" height="6.5" stroke-width="1.0" fill="#fff"/>
<line x1="59.5" y1="968.7" x2="75.5" y2="962.2" stroke-width="0.99"/>
<line x1="59.5" y1="975.6" x2="65.3" y2="972.4" stroke-width="0.99"/>
<path d="M147.3,710.5 C165,719 195,745 230.2,775.3 L249,800 C245,806 235,812 224.4,810.2 C200,800 180,775 163.5,749.5 L150.5,749.8 L136,740 L120,725 L130,716 Z" fill="#fff" stroke="none"/>
<path d="M234.5,755.5 C240,751 250,747 256.4,748.4 C270,752 282,775 281.8,785.5 C282,795 270,800 258,803 L249,800 L229.5,775.5 Z" fill="#fff" stroke="none"/>
<path d="M100.4,693.1 C110,696 120,701 130.9,705.1 C138,707 143,709 147.3,710.5 C165,719 195,745 230.2,775.3" stroke-width="1.12" fill="none"/>
<path d="M100.4,693.1 C99,696 100,699 103,702 C106,705 109,707 113,709 C119,712 125,714 131,716" stroke-width="0.99" fill="none"/>
<path d="M146.2,718.2 L121,720.2 C116.5,721 116.5,727.5 121,728.3 L134,727.5" stroke-width="0.99" fill="none"/>
<path d="M119.5,729 C118,734 121,741 125.5,745.5 C129,750 132,754 136.4,755.3 C141,754.5 146,751 150.5,749.8 L163.5,749.5 C180,775 200,800 224.4,810.2 C235,812 245,806 250.5,801.5" stroke-width="1.12" fill="none"/>
<path d="M121,733 C126,733 132,734 136,736 M125,741 C130,741 136,742 140,744 M131,749 C136,748 141,748 145,750" stroke-width="0.81" fill="none"/>
<path d="M147.3,736.7 C152,738 156,739 159.3,739.5" stroke-width="0.9" fill="none"/>
<path d="M111,708 L116,709 M120,702 L122,706" stroke-width="0.72" fill="none"/>
<path d="M229.5,775.5 C232,770 236,766 240,764 C244,770 250,785 249,800" stroke-width="1.08" fill="none"/>
<path d="M234.5,755.5 C240,751 250,747 256.4,748.4 C270,752 282,775 281.8,785.5 C282,795 270,800 258,803 C254,803 250,801 249,800" stroke-width="1.35" fill="none"/>
<path d="M237,760 C243,756 248,760 252,768 C256,776 257,790 255,801" stroke-width="0.99" fill="none"/>
<path d="M307.5,691.4 C318,685 324,670 314.3,662.3 L300,660 Q287.7,660 287.7,648 L287.7,583 Q287.7,571.4 300,571.4 L486,571.4 Q497.3,571.4 497.3,583 L497.3,619 L476.8,658.9 L345,661 C330,662 315,682 307.5,691.4 Z" stroke-width="1.3" fill="#fff"/>
<text transform="translate(295.5,589.5) scale(0.8831183557760454,1)" font-size="13.2" word-spacing="4.50" stroke="none">CLOSE DOOR AND CHECK FOR</text>
<text transform="translate(295.5,605.2) scale(0.8861794250086594,1)" font-size="13.2" word-spacing="4.50" stroke="none">CORRECT CLEARANCE AT</text>
<text transform="translate(295.5,621) scale(0.8559417502404176,1)" font-size="13.2" word-spacing="4.50" stroke="none">DOOR EDGES. LOOSEN SCREWS</text>
<text transform="translate(295.5,636.8) scale(0.88633197648123,1)" font-size="13.2" word-spacing="4.50" stroke="none">IN SLOTTED HOLES AND</text>
<text transform="translate(295.5,652.7) scale(0.892036542970329,1)" font-size="13.2" word-spacing="4.50" stroke="none">ADJUST DOOR AS NEEDED.</text>
<line x1="580" y1="69" x2="588" y2="69" stroke-width="1.08"/>
<g stroke="#dcdcdc" stroke-width="1">
<line x1="480" y1="540" x2="528" y2="539.5" stroke-width="0.9"/>
<line x1="563" y1="540" x2="575" y2="539.5" stroke-width="0.9"/>
<line x1="610" y1="540" x2="625" y2="539.5" stroke-width="0.9"/>
<line x1="700" y1="540" x2="715" y2="539.5" stroke-width="0.9"/>
<line x1="735" y1="540" x2="760" y2="539.5" stroke-width="0.9"/>
<line x1="775" y1="540" x2="790" y2="539.5" stroke-width="0.9"/>
<line x1="860" y1="540" x2="875" y2="539.5" stroke-width="0.9"/>
<line x1="920" y1="540" x2="960" y2="539.5" stroke-width="0.9"/>
<line x1="120" y1="540" x2="135" y2="540" stroke-width="0.63"/>
<line x1="180" y1="540" x2="200" y2="540" stroke-width="0.63"/>
<line x1="300" y1="540" x2="315" y2="540" stroke-width="0.63"/>
<line x1="360" y1="540" x2="372" y2="540" stroke-width="0.63"/>
<line x1="420" y1="540" x2="440" y2="540" stroke-width="0.63"/>
</g>
<line x1="648" y1="1079" x2="650" y2="1079" stroke-width="0.72"/>
<line x1="715" y1="1079" x2="717" y2="1079" stroke-width="0.72"/>
<line x1="863" y1="1079" x2="864.5" y2="1079" stroke-width="0.72"/>
<line x1="977" y1="1079" x2="980" y2="1079" stroke-width="0.72"/>
<line x1="983" y1="1079" x2="986" y2="1079" stroke-width="0.72"/>
<line x1="1043" y1="1079" x2="1044.5" y2="1079" stroke-width="0.72"/>
</g>
</svg></body></html>
